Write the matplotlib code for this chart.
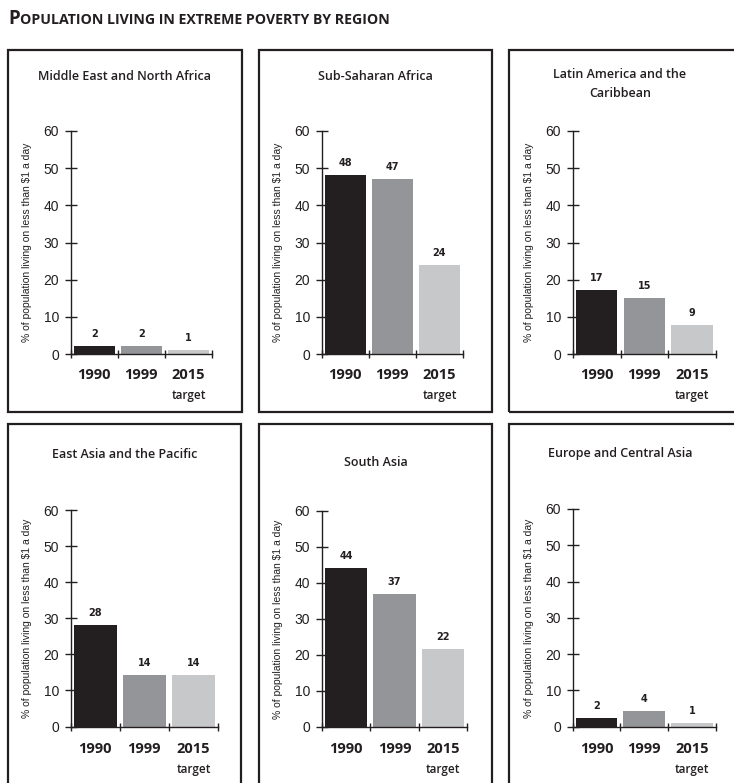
import matplotlib.pyplot as plt
from matplotlib.patches import Rectangle

# data
regions = ['Middle East and North Africa', 'Sub-Saharan Africa',
           'Latin America and the\nCaribbean', 'East Asia and the Pacific',
           'South Asia', 'Europe and Central Asia']
years = ['1990', '1999', '2015']
bar_mena = [2.2, 2.2, 1.1]
bar_ssa = [48.2, 47.0, 24.0]
bar_lac = [17.2, 15.0, 7.8]
bar_eap = [28.2, 14.2, 14.2]
bar_sa = [44.2, 37.0, 21.6]
bar_eca = [2.4, 4.3, 1.1]
lab_mena = [2, 2, 1]
lab_ssa = [48, 47, 24]
lab_lac = [17, 15, 9]
lab_eap = [28, 14, 14]
lab_sa = [44, 37, 22]
lab_eca = [2, 4, 1]
heights = [bar_mena, bar_ssa, bar_lac, bar_eap, bar_sa, bar_eca]
labels = [lab_mena, lab_ssa, lab_lac, lab_eap, lab_sa, lab_eca]
yticks = [0, 10, 20, 30, 40, 50, 60]

colors = ['#231f20', '#939598', '#c7c8ca']
ink = '#231f20'
W, H = 734, 783

fig = plt.figure(figsize=(W / 100, H / 100), dpi=100)

def px_axes(x0, y0, x1, y1):
    return fig.add_axes([x0 / W, 1 - y1 / H, (x1 - x0) / W, (y1 - y0) / H])

# boxes: (x0, y0, x1, y1) in pixels
boxes = [(8, 50, 242, 412), (259, 50, 492, 412), (509, 50, 745, 412),
         (8, 424, 241, 795), (259, 424, 492, 795), (509, 424, 745, 795)]
# axes rectangles in pixels
axrects = [(70.7, 131, 212, 354), (321.7, 131, 463, 354), (573, 131, 715.7, 354),
           (70.7, 510, 218, 726.5), (322, 511, 467, 727), (572.7, 509, 715.7, 726.7)]
title_y = [77, 77, 84, 455, 462, 453]
year_y = [375, 375, 375, 749, 749, 749]

for b in boxes:
    fig.patches.append(Rectangle((b[0] / W, 1 - b[3] / H), (b[2] - b[0]) / W,
                                 (b[3] - b[1]) / H, transform=fig.transFigure,
                                 fill=False, lw=1.6, ec=ink))

fig.text(8 / W, 1 - 24 / H, 'P', fontsize=13.5, fontweight='bold',
         family='Open Sans', color=ink, va='baseline')
fig.text(19.5 / W, 1 - 24 / H, 'OPULATION LIVING IN EXTREME POVERTY BY REGION',
         fontsize=10.2, fontweight='bold', family='Open Sans', color=ink,
         va='baseline')

for i in range(6):
    b = boxes[i]
    r = axrects[i]
    ax = px_axes(*r)
    x = list(range(3))
    ax.bar(x, heights[i], width=0.87, color=colors, zorder=2)
    for xi, h, lab in zip(x, heights[i], labels[i]):
        ax.annotate(str(lab), (xi, h), xytext=(0, 5), textcoords='offset points',
                    ha='center', va='bottom', fontsize=7, fontweight='bold',
                    family='DejaVu Sans', color=ink)
    ax.set_xlim(-0.5, 2.5)
    ax.set_ylim(0, 60)
    ax.set_yticks(yticks)
    ax.set_xticks([-0.5, 0.5, 1.5, 2.5])
    ax.set_xticklabels([])
    ax.tick_params(axis='y', direction='inout', length=9, width=1,
                   labelsize=10, color=ink, labelcolor=ink, pad=4)
    ax.tick_params(axis='x', direction='inout', length=6, width=1, color=ink)
    for lbl in ax.get_yticklabels():
        lbl.set_family('Liberation Sans')
    for s in ['top', 'right']:
        ax.spines[s].set_visible(False)
    for s in ['left', 'bottom']:
        ax.spines[s].set_linewidth(1)
        ax.spines[s].set_color(ink)
    ax.patch.set_visible(False)

    ax.set_ylabel('% of population living on less than $1 a day',
                  family='Liberation Sans', fontstretch='condensed',
                  fontsize=7.5, color=ink, labelpad=8)

    # year labels under bars
    for xi, yr in zip(x, years):
        xpx = r[0] + (xi + 0.5) / 3 * (r[2] - r[0])
        fig.text(xpx / W, 1 - year_y[i] / H, yr, ha='center', va='center',
                 fontsize=10.5, fontweight='bold', family='Open Sans', color=ink)
    xpx = r[0] + 2.5 / 3 * (r[2] - r[0])
    fig.text(xpx / W, 1 - (year_y[i] + 20) / H, 'target', ha='center',
             va='center', fontsize=8.5, fontweight='semibold',
             family='Open Sans', color=ink)

    cx = (b[0] + b[2]) / 2 if i % 3 != 2 else 620
    fig.text(cx / W, 1 - title_y[i] / H, regions[i], ha='center', va='center',
             fontsize=9, fontweight='semibold', family='Open Sans',
             color=ink, linespacing=1.6)

fig.savefig('out.png', dpi=100)
